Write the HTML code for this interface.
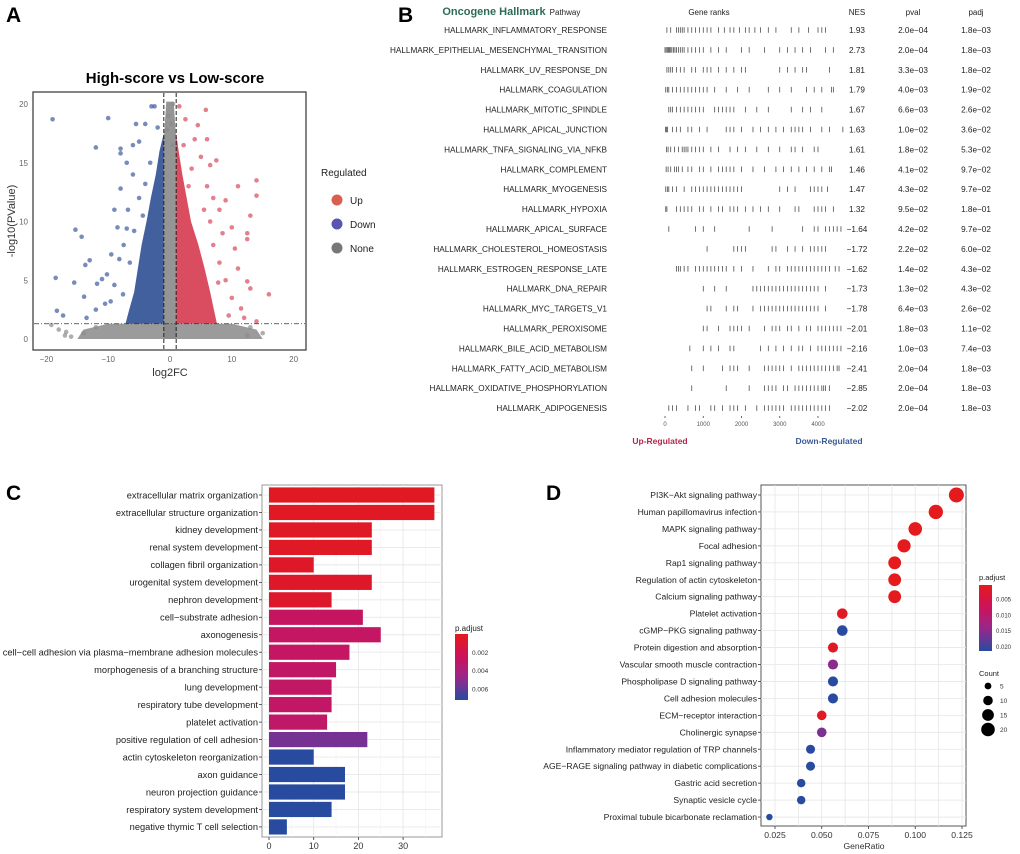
<!DOCTYPE html>
<html><head><meta charset="utf-8"><style>
html,body{margin:0;padding:0;background:#fff;}
svg{display:block;font-family:"Liberation Sans",Arial,sans-serif;}
</style></head><body>
<svg id="fig" width="1020" height="854" viewBox="0 0 1020 854" xmlns="http://www.w3.org/2000/svg">
<text x="6" y="22" font-size="21" font-weight="bold">A</text>
<text x="398" y="22" font-size="21" font-weight="bold">B</text>
<text x="6" y="500" font-size="21" font-weight="bold">C</text>
<text x="546" y="500" font-size="21" font-weight="bold">D</text>
<g id="pa"></g>
<g id="pb"></g>
<g id="pc"></g>
<g id="pd"></g>
</svg>
<script>
// ---------- Panel A data ----------
const volcXTicks=[-20,-10,0,10,20];
const volcYTicks=[0,5,10,15,20];
const blueEnvelope=[[-1,1.3],[-7.2,1.3],[-6.6,2.5],[-5.8,4],[-5.2,6],[-4.6,8],[-3.8,10],[-3.1,12],[-2.3,14],[-1.7,16],[-1,17.5]];
const redEnvelope=[[1,1.3],[7.6,1.3],[7.1,2.5],[6.5,4],[5.6,6],[4.6,8],[3.4,10],[2.7,12],[2,14],[1.4,16],[1,17.5]];
const grayBand=[[-15,0],[15,0],[14,0.8],[10,1.3],[-10,1.3],[-14,0.8]];
const grayStrip=[[-1,0],[1,0],[1,17],[0.6,20.2],[-0.6,20.2],[-1,17]];
const downPoints=[[-19,18.7],[-10,18.8],[-12,16.3],[-8,16.2],[-18.5,5.2],[-15.3,9.3],[-14.3,8.7],[-13,6.7],[-13.7,6.3],[-11,5.1],[-15.5,4.8],[-13.9,3.6],[-18.3,2.4],[-17.3,2],[-13.5,1.8],[-9,4.6],[-10.2,5.5],[-11.8,4.7],[-9.5,7.2],[-8,12.8],[-7,9.4],[-9,11],[-5.5,18.3],[-4,18.3],[-6,16.5],[-5,16.8],[-3,19.8],[-2.5,19.8],[-7,15],[-6,14],[-5,12],[-8.5,9.5],[-7.5,8],[-6.5,6.5],[-10.5,3],[-8,15.8],[-4,13.2],[-3.2,15],[-2,18],[-6.8,11],[-8.2,6.8],[-9.6,3.2],[-12,2.5],[-7.6,3.8],[-5.8,9.2],[-4.4,10.5]];
const upPoints=[[1.5,19.8],[5.8,19.5],[2.5,18.7],[4.5,18.2],[4,17],[6,17],[7.5,15.2],[6.5,14.8],[14,13.5],[11,13],[14,12.2],[9,11.8],[13,10.5],[10,9.5],[12.5,9],[12.5,8.5],[10.5,7.7],[11,6],[12.5,4.9],[16,3.8],[13,4.3],[10,3.5],[14,1.5],[8,6.5],[9,5],[7,8],[8,11],[6,13],[5,15.5],[3.5,14.5],[7,12],[2.2,16.5],[3,13],[9.5,2],[11.5,2.6],[8.5,9],[5.5,11],[6.5,10],[12,1.8],[7.8,4.8]];
const nonePoints=[[-18,0.8],[-19.2,1.2],[-16,0.2],[-14,0.5],[15,0.5],[13,1],[-17,0.3],[0.5,20],[-0.3,19],[0.2,18.3],[-0.5,17.8],[0.4,16.5],[-12,1],[12.5,0.3],[-16.8,0.6]];

// ---------- Panel B data ----------
const pathways=["HALLMARK_INFLAMMATORY_RESPONSE","HALLMARK_EPITHELIAL_MESENCHYMAL_TRANSITION","HALLMARK_UV_RESPONSE_DN","HALLMARK_COAGULATION","HALLMARK_MITOTIC_SPINDLE","HALLMARK_APICAL_JUNCTION","HALLMARK_TNFA_SIGNALING_VIA_NFKB","HALLMARK_COMPLEMENT","HALLMARK_MYOGENESIS","HALLMARK_HYPOXIA","HALLMARK_APICAL_SURFACE","HALLMARK_CHOLESTEROL_HOMEOSTASIS","HALLMARK_ESTROGEN_RESPONSE_LATE","HALLMARK_DNA_REPAIR","HALLMARK_MYC_TARGETS_V1","HALLMARK_PEROXISOME","HALLMARK_BILE_ACID_METABOLISM","HALLMARK_FATTY_ACID_METABOLISM","HALLMARK_OXIDATIVE_PHOSPHORYLATION","HALLMARK_ADIPOGENESIS"];
const nesValues=["1.93","2.73","1.81","1.79","1.67","1.63","1.61","1.46","1.47","1.32","\u22121.64","\u22121.72","\u22121.62","\u22121.73","\u22121.78","\u22122.01","\u22122.16","\u22122.41","\u22122.85","\u22122.02"];
const pvalValues=["2.0e\u221204","2.0e\u221204","3.3e\u221203","4.0e\u221203","6.6e\u221203","1.0e\u221202","1.8e\u221202","4.1e\u221202","4.3e\u221202","9.5e\u221202","4.2e\u221202","2.2e\u221202","1.4e\u221202","1.3e\u221202","6.4e\u221203","1.8e\u221203","1.0e\u221203","2.0e\u221204","2.0e\u221204","2.0e\u221204"];
const padjValues=["1.8e\u221203","1.8e\u221203","1.8e\u221202","1.9e\u221202","2.6e\u221202","3.6e\u221202","5.3e\u221202","9.7e\u221202","9.7e\u221202","1.8e\u221201","9.7e\u221202","6.0e\u221202","4.3e\u221202","4.3e\u221202","2.6e\u221202","1.1e\u221202","7.4e\u221203","1.8e\u221203","1.8e\u221203","1.8e\u221203"];
const geneRanks=[
[50,150,300,350,400,450,500,600,700,800,900,1000,1100,1200,1400,1550,1700,1800,1950,2100,2200,2350,2500,2700,2900,3300,3500,3750,4000,4100,4200],
[0,30,60,90,120,150,180,220,260,300,350,400,450,500,600,700,800,900,1000,1200,1400,1600,2000,2200,2600,3000,3200,3400,3600,3800,4200,4400],
[50,100,150,200,300,400,500,700,800,1000,1100,1200,1400,1600,1800,2000,2100,3000,3200,3400,3600,3700,4300],
[20,60,100,200,300,400,500,600,700,800,900,1000,1100,1300,1600,1900,2200,2700,3000,3300,3700,3900,4100,4350,4400],
[100,150,200,300,400,500,600,700,800,900,1000,1300,1400,1500,1600,1700,1800,2100,2400,2700,3300,3600,3800,4100],
[10,40,70,200,300,400,600,700,900,1100,1600,1700,1800,2000,2300,2500,2700,2900,3100,3300,3400,3500,3600,3800,4100,4300,4650],
[40,80,150,250,350,450,500,550,600,700,800,900,1000,1200,1400,1700,1900,2100,2400,2700,3000,3300,3400,3600,3900,4000],
[30,80,150,250,300,350,450,600,700,900,1000,1200,1400,1500,1600,1700,1800,2000,2300,2600,2900,3100,3300,3500,3700,3900,4100,4300,4350],
[20,60,100,200,300,500,700,800,900,1000,1100,1200,1300,1400,1500,1600,1700,1800,1900,2000,3000,3200,3400,3800,3900,4000,4100,4250],
[20,50,300,400,500,600,700,900,1000,1200,1400,1500,1700,1800,1900,2100,2300,2500,2700,3000,3400,3500,3900,4000,4100,4200,4400],
[100,800,1000,1300,2200,2800,3600,3900,4000,4200,4300,4400,4500,4600],
[1100,1800,1900,2000,2100,2800,2900,3200,3400,3600,3800,3900,4000,4100,4200],
[300,350,400,500,600,800,900,1000,1100,1200,1300,1400,1500,1600,1800,2000,2300,2700,2900,3000,3200,3300,3400,3500,3600,3700,3800,3900,4000,4100,4200,4300,4450,4550],
[1000,1300,1600,2300,2400,2500,2600,2700,2800,2900,3000,3100,3200,3300,3400,3500,3600,3700,3800,3900,4000,4200],
[1100,1200,1600,1800,1900,2300,2500,2600,2700,2800,2900,3000,3100,3200,3300,3400,3500,3600,3700,3800,3900,4000,4200],
[1000,1100,1400,1700,1800,1900,2000,2200,2600,2800,2900,3000,3200,3300,3500,3700,3800,4000,4100,4200,4300,4400,4500,4600],
[650,1000,1200,1400,1700,1800,2500,2700,2900,3100,3300,3500,3600,3800,4000,4100,4200,4300,4400,4500,4600],
[700,1000,1500,1700,1800,1900,2200,2600,2700,2800,2900,3000,3100,3300,3500,3600,3700,3800,3900,4000,4100,4200,4300,4400,4500,4550],
[700,1600,2200,2600,2700,2800,2900,3100,3200,3400,3500,3600,3700,3800,3900,4000,4100,4150,4200,4300],
[100,200,300,600,800,900,1200,1300,1500,1700,1800,1900,2100,2400,2600,2700,2800,2900,3000,3100,3300,3400,3500,3600,3700,3800,3900,4000,4100,4200,4300]];
const rankTicks=[0,1000,2000,3000,4000];

// ---------- Panel C data ----------
const goTerms=["extracellular matrix organization","extracellular structure organization","kidney development","renal system development","collagen fibril organization","urogenital system development","nephron development","cell\u2212substrate adhesion","axonogenesis","cell\u2212cell adhesion via plasma\u2212membrane adhesion molecules","morphogenesis of a branching structure","lung development","respiratory tube development","platelet activation","positive regulation of cell adhesion","actin cytoskeleton reorganization","axon guidance","neuron projection guidance","respiratory system development","negative thymic T cell selection"];
const goCounts=[37,37,23,23,10,23,14,21,25,18,15,14,14,13,22,10,17,17,14,4];
const goPadj=[0.0003,0.0003,0.0004,0.0004,0.0005,0.0005,0.0006,0.0027,0.0028,0.0028,0.0029,0.0029,0.0029,0.003,0.0055,0.0072,0.0072,0.0072,0.0072,0.0072];
const goXTicks=[0,10,20,30];
const goLegendTicks=[0.002,0.004,0.006];

// ---------- Panel D data ----------
const keggTerms=["PI3K\u2212Akt signaling pathway","Human papillomavirus infection","MAPK signaling pathway","Focal adhesion","Rap1 signaling pathway","Regulation of actin cytoskeleton","Calcium signaling pathway","Platelet activation","cGMP\u2212PKG signaling pathway","Protein digestion and absorption","Vascular smooth muscle contraction","Phospholipase D signaling pathway","Cell adhesion molecules","ECM\u2212receptor interaction","Cholinergic synapse","Inflammatory mediator regulation of TRP channels","AGE\u2212RAGE signaling pathway in diabetic complications","Gastric acid secretion","Synaptic vesicle cycle","Proximal tubule bicarbonate reclamation"];
const keggRatio=[0.122,0.111,0.100,0.094,0.089,0.089,0.089,0.061,0.061,0.056,0.056,0.056,0.056,0.050,0.050,0.044,0.044,0.039,0.039,0.022];
const keggCount=[22,20,18,17,16,16,16,11,11,10,10,10,10,9,9,8,8,7,7,4];
const keggPadj=[0.001,0.001,0.001,0.001,0.001,0.001,0.001,0.002,0.021,0.002,0.015,0.021,0.021,0.002,0.016,0.021,0.021,0.021,0.021,0.021];
const keggXTicks=[0.025,0.050,0.075,0.100,0.125];
const keggLegendTicks=[0.005,0.010,0.015,0.020];
const countLegend=[5,10,15,20];

const NS="http://www.w3.org/2000/svg";
function mk(parent,tag,attrs,text){const e=document.createElementNS(NS,tag);for(const k in attrs)e.setAttribute(k,attrs[k]);if(text!==undefined)e.textContent=text;parent.appendChild(e);return e;}
function lerp(a,b,t){return a+(b-a)*t;}
function grad(t){
  const stops=[[228,26,28],[205,18,90],[150,40,140],[40,75,160]];
  t=Math.max(0,Math.min(1,t));const s=t*3;const i=Math.min(2,Math.floor(s));const f=s-i;
  const a=stops[i],b=stops[i+1];
  return "rgb("+Math.round(lerp(a[0],b[0],f))+","+Math.round(lerp(a[1],b[1],f))+","+Math.round(lerp(a[2],b[2],f))+")";
}

// ===== Panel A =====
(function(){
const g=document.getElementById('pa');
const xs=v=>170+v*6.18, ys=v=>339-v*11.75;
mk(g,'text',{x:175,y:83,'font-size':15,'font-weight':'bold','text-anchor':'middle',},'High-score vs Low-score');
mk(g,'rect',{x:33,y:92,width:273,height:258,fill:'#fff',stroke:'#333','stroke-width':1.2,});
const poly=(pts,fill,op,name)=>{const p=mk(g,'polygon',{points:pts.map(q=>xs(q[0])+','+ys(q[1])).join(' '),fill:fill,opacity:op});};
poly(grayBand,'#8a8a8a',0.85,'none-region-band');
poly(blueEnvelope,'#2f4f94',0.9,'down-region');
poly(redEnvelope,'#d63a4f',0.9,'up-region');
poly(grayStrip,'#8a8a8a',0.9,'none-region-strip');
const pts=(arr,fill,name)=>arr.forEach(p=>{const c=mk(g,'circle',{cx:xs(p[0]),cy:ys(p[1]),r:2.3,fill:fill,opacity:0.7});});
pts(downPoints,'#3e5ba0','down-point');pts(upPoints,'#d8485c','up-point');pts(nonePoints,'#8c8c8c','none-point');
[-1,1].forEach(v=>{const l=mk(g,'line',{x1:xs(v),x2:xs(v),y1:93,y2:349,stroke:'#222','stroke-width':1,'stroke-dasharray':'4,2'});});
const h=mk(g,'line',{x1:34,x2:305,y1:ys(1.3),y2:ys(1.3),stroke:'#333','stroke-width':0.8,'stroke-dasharray':'5,2,1,2'});
volcXTicks.forEach(v=>{const t=mk(g,'text',{x:xs(v),y:362,'font-size':8,fill:'#666','text-anchor':'middle'},String(v).replace('-','\u2212'));});
volcYTicks.forEach(v=>{const t=mk(g,'text',{x:28,y:ys(v)+3,'font-size':8,fill:'#666','text-anchor':'end'},String(v));});
mk(g,'text',{x:170,y:376,'font-size':11,fill:'#333','text-anchor':'middle',},'log2FC');
mk(g,'text',{x:15,y:221,'font-size':11,fill:'#333','text-anchor':'middle',transform:'rotate(-90 15 221)',},'-log10(PValue)');
mk(g,'text',{x:321,y:176,'font-size':10,fill:'#222',},'Regulated');
const leg=[['Up','#d9604f'],['Down','#5a55b0'],['None','#777']];
leg.forEach((d,i)=>{const c=mk(g,'circle',{cx:337,cy:200+i*24,r:5.5,fill:d[1]});
const t=mk(g,'text',{x:350,y:204+i*24,'font-size':10,fill:'#222'},d[0]);});
})();

// ===== Panel B =====
(function(){
const g=document.getElementById('pb');
const rowY=i=>30+i*19.9, rx=v=>665+v*0.03825;
mk(g,'text',{x:494,y:15,'font-size':11,'font-weight':'bold',fill:'#2e6b55','text-anchor':'middle',},'Oncogene Hallmark');
mk(g,'text',{x:565,y:15,'font-size':8,fill:'#222','text-anchor':'middle',},'Pathway');
mk(g,'text',{x:709,y:15,'font-size':8,fill:'#222','text-anchor':'middle',},'Gene ranks');
mk(g,'text',{x:857,y:15,'font-size':8,fill:'#222','text-anchor':'middle',},'NES');
mk(g,'text',{x:913,y:15,'font-size':8,fill:'#222','text-anchor':'middle',},'pval');
mk(g,'text',{x:976,y:15,'font-size':8,fill:'#222','text-anchor':'middle',},'padj');
pathways.forEach((p,i)=>{const y=rowY(i);
 const t=mk(g,'text',{x:607,y:y+3,'font-size':8.2,fill:'#222','text-anchor':'end'},p);
 geneRanks[i].forEach(r=>{const l=mk(g,'line',{x1:rx(r),x2:rx(r),y1:y-2.8,y2:y+2.8,stroke:'#333','stroke-width':0.7});});
 const n=mk(g,'text',{x:857,y:y+3,'font-size':8.2,fill:'#222','text-anchor':'middle'},nesValues[i]);
 const pv=mk(g,'text',{x:913,y:y+3,'font-size':8.2,fill:'#222','text-anchor':'middle'},pvalValues[i]);
 const pa=mk(g,'text',{x:976,y:y+3,'font-size':8.2,fill:'#222','text-anchor':'middle'},padjValues[i]);
});
rankTicks.forEach(v=>{const l=mk(g,'line',{x1:rx(v),x2:rx(v),y1:416,y2:418,stroke:'#444','stroke-width':0.8});
 const t=mk(g,'text',{x:rx(v),y:426,'font-size':6,fill:'#555','text-anchor':'middle'},String(v));});
mk(g,'text',{x:660,y:444,'font-size':8.5,'font-weight':'bold',fill:'#b3284a','text-anchor':'middle',},'Up-Regulated');
mk(g,'text',{x:829,y:444,'font-size':8.5,'font-weight':'bold',fill:'#3a5a96','text-anchor':'middle',},'Down-Regulated');
})();

// ===== Panel C =====
(function(){
const g=document.getElementById('pc');
const L=262,R=442,T=485,B=837;
const xs=v=>269+v*4.47, ys=i=>495+i*17.47, pmax=0.0072;
mk(g,'rect',{x:L,y:T,width:R-L,height:B-T,fill:'#fff',stroke:'#999','stroke-width':1,});
for(let v=0;v<=40;v+=5){const x=xs(v);if(x>L&&x<R){const l=mk(g,'line',{x1:x,x2:x,y1:T,y2:B,stroke:v%10?'#f2f2f2':'#e6e6e6','stroke-width':v%10?0.5:0.9});}}
goTerms.forEach((t,i)=>{const y=ys(i);
 const gl=mk(g,'line',{x1:L,x2:R,y1:y,y2:y,stroke:'#e8e8e8','stroke-width':0.9});});
goTerms.forEach((t,i)=>{const y=ys(i);
 const b=mk(g,'rect',{x:xs(0),y:y-7.6,width:xs(goCounts[i])-xs(0),height:15.2,fill:grad(goPadj[i]/pmax)});
 const tk=mk(g,'line',{x1:L-3,x2:L,y1:y,y2:y,stroke:'#333','stroke-width':0.8});
 const lb=mk(g,'text',{x:258,y:y+3.3,'font-size':9.3,fill:'#222','text-anchor':'end'},t);});
goXTicks.forEach(v=>{const tk=mk(g,'line',{x1:xs(v),x2:xs(v),y1:B,y2:B+3,stroke:'#333','stroke-width':0.8});
 const t=mk(g,'text',{x:xs(v),y:B+12,'font-size':9,fill:'#333','text-anchor':'middle'},String(v));});
mk(g,'text',{x:455,y:631,'font-size':8,fill:'#222',},'p.adjust');
const defs=mk(g,'defs',{});const lg=mk(defs,'linearGradient',{id:'gc',x1:0,y1:0,x2:0,y2:1});
for(let k=0;k<=10;k++)mk(lg,'stop',{offset:k/10,'stop-color':grad(k/10)});
const cbT=634,cbB=700,cbMax=0.0072;
mk(g,'rect',{x:455,y:cbT,width:13,height:cbB-cbT,fill:'url(#gc)',});
goLegendTicks.forEach(v=>{const y=cbT+(cbB-cbT)*v/cbMax;const t=mk(g,'text',{x:472,y:y+2.5,'font-size':6.5,fill:'#333'},v.toFixed(3));});
})();

// ===== Panel D =====
(function(){
const g=document.getElementById('pd');
const L=761,R=966,T=485,B=826;
const xs=v=>775+(v-0.025)*1870, ys=i=>495+i*16.95;
const cmin=0.001,cmax=0.021;
const rad=c=>Math.sqrt(c)*1.6;
mk(g,'rect',{x:L,y:T,width:R-L,height:B-T,fill:'#fff',stroke:'#555','stroke-width':1,});
for(let v=0.0125;v<0.13;v+=0.0125){const x=xs(v);if(x>L&&x<R){const l=mk(g,'line',{x1:x,x2:x,y1:T,y2:B,stroke:'#e6e6e6','stroke-width':0.8});}}
keggTerms.forEach((t,i)=>{const y=ys(i);
 const gl=mk(g,'line',{x1:L,x2:R,y1:y,y2:y,stroke:'#e6e6e6','stroke-width':0.8});
 const tk=mk(g,'line',{x1:L-3,x2:L,y1:y,y2:y,stroke:'#333','stroke-width':0.8});
 const lb=mk(g,'text',{x:757,y:y+3,'font-size':8.6,fill:'#222','text-anchor':'end'},t);});
keggTerms.forEach((t,i)=>{const c=mk(g,'circle',{cx:xs(keggRatio[i]),cy:ys(i),r:rad(keggCount[i]),fill:grad((keggPadj[i]-cmin)/(cmax-cmin))});});
keggXTicks.forEach(v=>{const tk=mk(g,'line',{x1:xs(v),x2:xs(v),y1:B,y2:B+3,stroke:'#333','stroke-width':0.8});
 const t=mk(g,'text',{x:xs(v),y:B+12,'font-size':8.6,fill:'#333','text-anchor':'middle'},v.toFixed(3));});
mk(g,'text',{x:864,y:849,'font-size':8.6,fill:'#333','text-anchor':'middle',},'GeneRatio');
mk(g,'text',{x:979,y:580,'font-size':7.5,fill:'#222',},'p.adjust');
const defs=mk(g,'defs',{});const lg=mk(defs,'linearGradient',{id:'gd',x1:0,y1:0,x2:0,y2:1});
for(let k=0;k<=10;k++)mk(lg,'stop',{offset:k/10,'stop-color':grad(k/10)});
const cbT=585,cbB=651,cbLo=0.0005,cbHi=0.0215;
mk(g,'rect',{x:979,y:cbT,width:13,height:cbB-cbT,fill:'url(#gd)',});
keggLegendTicks.forEach(v=>{const y=cbT+(cbB-cbT)*(v-cbLo)/(cbHi-cbLo);const t=mk(g,'text',{x:996,y:y+2.5,'font-size':6,fill:'#333'},v.toFixed(3));});
mk(g,'text',{x:979,y:676,'font-size':7.5,fill:'#222',},'Count');
countLegend.forEach((c,i)=>{const y=686+i*14.5;const d=mk(g,'circle',{cx:988,cy:y,r:rad(c)*0.95,fill:'#000'});
 const t=mk(g,'text',{x:1000,y:y+2.5,'font-size':6.5,fill:'#333'},String(c));});
})();
</script>
</body></html>
